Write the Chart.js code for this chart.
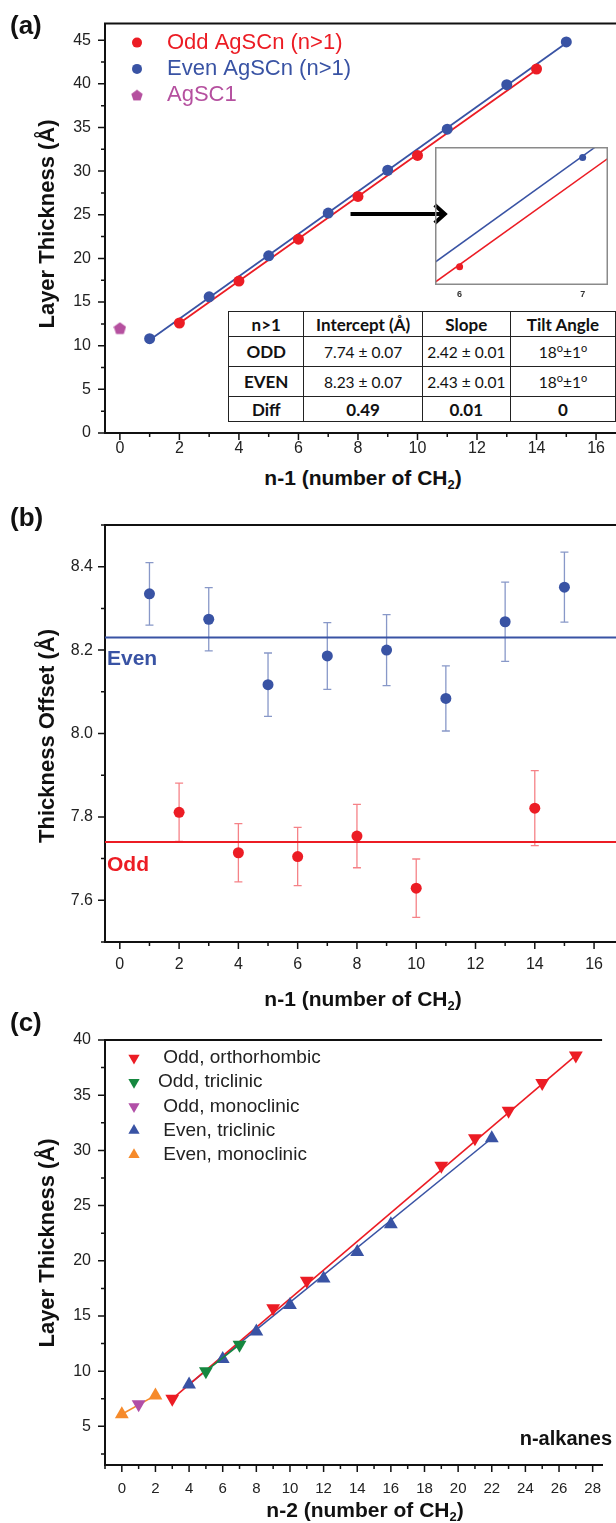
<!DOCTYPE html>
<html>
<head>
<meta charset="utf-8">
<script src="https://cdn.jsdelivr.net/npm/chart.js"></script>
<style>
html, body { margin: 0; padding: 0; background: #fff; }
body { width: 616px; height: 1523px; position: relative; overflow: hidden; font-family: "Liberation Sans", Arial, sans-serif; color: #111; }
canvas { position: absolute; left: 0; }
.lbl { position: absolute; white-space: nowrap; font-weight: bold; line-height: 1; transform: translate(0, -50%); }
.xtitle { position: absolute; white-space: nowrap; font-weight: bold; font-size: 21px; line-height: 1; transform: translate(-50%, -50%); }
.ytitle { position: absolute; white-space: nowrap; font-weight: bold; font-size: 22px; line-height: 1; transform: translate(-50%, -50%) rotate(-90deg); }
sub { font-size: 13px; vertical-align: -4px; line-height: 0; }
#fitTable { position: absolute; left: 228px; top: 311px; border-collapse: collapse; background: #fff; font-family: Lato, "Open Sans", sans-serif; font-size: 15.5px; color: #111; }
#fitTable td { border: 1.5px solid #222; text-align: center; padding: 0; }
#fitTable tr.head td, #fitTable td.rowname, #fitTable tr.bold td { font-weight: bold; font-size: 17px; }
#fitTable sup { font-size: 11px; vertical-align: 6px; line-height: 0; }
</style>
</head>
<body>

<canvas id="chartA" width="616" height="465" style="top:0px"></canvas>
<canvas id="insetChart" width="173" height="160" style="top:147px; left:435px"></canvas>
<canvas id="chartB" width="616" height="470" style="top:500px"></canvas>
<canvas id="chartC" width="616" height="490" style="top:1010px"></canvas>

<div class="lbl" style="left:10px; top:25px; font-size:26px">(a)</div>
<div class="lbl" style="left:10px; top:517px; font-size:26px">(b)</div>
<div class="lbl" style="left:10px; top:1022px; font-size:26px">(c)</div>

<div class="ytitle" style="left:47px; top:224px">Layer Thickness (Å)</div>
<div class="xtitle" style="left:363px; top:477px">n-1 (number of CH<sub>2</sub>)</div>
<div class="ytitle" style="left:47px; top:736px">Thickness Offset (Å)</div>
<div class="xtitle" style="left:363px; top:998px">n-1 (number of CH<sub>2</sub>)</div>
<div class="ytitle" style="left:47px; top:1243px">Layer Thickness (Å)</div>
<div class="xtitle" style="left:365px; top:1509px">n-2 (number of CH<sub>2</sub>)</div>

<div class="lbl" style="left:107px; top:657px; font-size:21px; color:#3953a4">Even</div>
<div class="lbl" style="left:107px; top:863px; font-size:21px; color:#ec1c24">Odd</div>
<div class="lbl" style="right:4px; top:1438px; font-size:20px">n-alkanes</div>

<table id="fitTable"></table>

<script>
//Colors
var red = "#ec1c24";
var blue = "#3953a4";
var magenta = "#b5509f";
var green = "#15873f";
var purple = "#b14fa7";
var orange = "#f68a2a";
var tickFont = "'Liberation Sans', Arial, sans-serif";

//DATA (a) layer thickness of AgSCn
var oddX = [2, 4, 6, 8, 10, 14];
var oddY = [12.6, 17.4, 22.2, 27.1, 31.8, 41.7];
var evenX = [1, 3, 5, 7, 9, 11, 13, 15];
var evenY = [10.8, 15.6, 20.3, 25.2, 30.1, 34.8, 39.9, 44.8];
var sc1X = [0];
var sc1Y = [12.0];
var oddFitX = [2, 14];
var oddFitY = [12.58, 41.62];
var evenFitX = [1, 15];
var evenFitY = [10.66, 44.68];
var aTicksX = [0, 2, 4, 6, 8, 10, 12, 14, 16];
var aTicksY = [0, 5, 10, 15, 20, 25, 30, 35, 40, 45];
var insetTicksX = [6, 7];
var arrowX = [7.75, 10.95];
var arrowY = [25.1, 25.1];

//fit table
var tableHead = ["n>1", "Intercept (Å)", "Slope", "Tilt Angle"];
var tableRows = [
  ["ODD", "7.74 ± 0.07", "2.42 ± 0.01", "18°±1°"],
  ["EVEN", "8.23 ± 0.07", "2.43 ± 0.01", "18°±1°"],
  ["Diff", "0.49", "0.01", "0"]
];

//DATA (b) thickness offset
var offEvenY = [8.335, 8.274, 8.117, 8.186, 8.200, 8.084, 8.268, 8.351];
var offEvenErr = [0.075, 0.076, 0.076, 0.080, 0.085, 0.078, 0.095, 0.084];
var offOddY = [7.811, 7.714, 7.705, 7.754, 7.629, 7.821];
var offOddErr = [0.070, 0.070, 0.070, 0.076, 0.070, 0.090];
var evenMeanX = [-0.5, 16.74];
var evenMeanY = [8.23, 8.23];
var oddMeanX = [-0.5, 16.74];
var oddMeanY = [7.74, 7.74];
var bTicksX = [0, 2, 4, 6, 8, 10, 12, 14, 16];
var bTicksY = [7.6, 7.8, 8.0, 8.2, 8.4];

//DATA (c) n-alkanes
var orthoX = [3, 9, 11, 19, 21, 23, 25, 27];
var orthoY = [7.5, 15.7, 18.2, 28.6, 31.1, 33.6, 36.1, 38.6];
var oddTriX = [5, 7];
var oddTriY = [10.0, 12.4];
var oddMonoX = [1];
var oddMonoY = [7.0];
var evenTriX = [4, 6, 8, 10, 12, 14, 16, 22];
var evenTriY = [8.8, 11.1, 13.6, 16.0, 18.4, 20.8, 23.3, 31.1];
var evenMonoX = [0, 2];
var evenMonoY = [6.1, 7.8];
var orthoFitX = [3, 27];
var orthoFitY = [7.5, 38.6];
var evenTriFitX = [4, 22];
var evenTriFitY = [8.8, 31.1];
var cTicksX = [0, 2, 4, 6, 8, 10, 12, 14, 16, 18, 20, 22, 24, 26, 28];
var cTicksY = [5, 10, 15, 20, 25, 30, 35, 40];


//HELPERS
function pairs(xs, ys) {
  return xs.map(function (x, i) { return { x: x, y: ys[i] }; });
}

function fixTicks(values) {
  return function (scale) {
    scale.ticks = values.map(function (v) { return { value: v }; });
  };
}

// pentagon marker for AgSC1 (no built-in pointStyle)
function makePentagon(color, size) {
  var c = document.createElement("canvas");
  c.width = size;
  c.height = size;
  var g = c.getContext("2d");
  var r = size / 2;
  g.fillStyle = color;
  g.beginPath();
  for (var k = 0; k < 5; k++) {
    var ang = -Math.PI / 2 + k * 2 * Math.PI / 5;
    var px = r + r * Math.cos(ang);
    var py = r + 0.5 + r * Math.sin(ang);
    if (k === 0) g.moveTo(px, py); else g.lineTo(px, py);
  }
  g.closePath();
  g.fill();
  return c;
}
var pentagonA = makePentagon(magenta, 13);
var pentagonLegend = makePentagon(magenta, 12);

function drawMarker(ctx, type, x, y, size, color) {
  ctx.fillStyle = color;
  ctx.beginPath();
  if (type === "circle") {
    ctx.arc(x, y, size, 0, Math.PI * 2);
  } else if (type === "pentagon") {
    ctx.drawImage(pentagonLegend, x - 6, y - 6);
    return;
  } else {
    var dir = type === "down" ? -1 : 1;
    for (var k = 0; k < 3; k++) {
      var ang = k * 2 * Math.PI / 3;
      var px = x + Math.sin(ang) * size;
      var py = y - dir * Math.cos(ang) * size;
      if (k === 0) ctx.moveTo(px, py); else ctx.lineTo(px, py);
    }
    ctx.closePath();
  }
  ctx.fill();
}

// ticks: majors come from the scale, minors from the step
function drawAxisTicks(ctx, scale, step, area, horizontal) {
  var majors = scale.ticks.map(function (t) { return t.value; });
  var start = Math.ceil(scale.min / step - 1e-6);
  var end = Math.floor(scale.max / step + 1e-6);
  ctx.beginPath();
  for (var i = start; i <= end; i++) {
    var v = i * step;
    var isMajor = majors.some(function (m) { return Math.abs(m - v) < step / 10; });
    var len = isMajor ? 7 : 4;
    var p = scale.getPixelForValue(v);
    if (horizontal) {
      ctx.moveTo(p, area.bottom);
      ctx.lineTo(p, area.bottom + len);
    } else {
      ctx.moveTo(area.left, p);
      ctx.lineTo(area.left - len, p);
    }
  }
  ctx.stroke();
}

//PLUGINS
var framePlugin = {
  id: "frame",
  afterDraw: function (chart, args, o) {
    if (!o.xMinor) return;
    var ctx = chart.ctx;
    var a = chart.chartArea;
    ctx.save();
    ctx.strokeStyle = "#111";
    ctx.lineWidth = 2;
    ctx.beginPath();
    ctx.moveTo(a.left - 1, a.top);
    ctx.lineTo(a.right, a.top);
    ctx.stroke();
    ctx.lineWidth = 1.5;
    drawAxisTicks(ctx, chart.scales.x, o.xMinor, a, true);
    drawAxisTicks(ctx, chart.scales.y, o.yMinor, a, false);
    ctx.restore();
  }
};

var legendPlugin = {
  id: "sideLegend",
  afterDraw: function (chart, args, o) {
    if (!o.texts) return;
    var ctx = chart.ctx;
    var a = chart.chartArea;
    ctx.save();
    ctx.font = o.textFont;
    ctx.textBaseline = "middle";
    for (var i = 0; i < o.texts.length; i++) {
      var x = a.left + o.dx;
      var y = a.top + o.dy + i * o.step;
      drawMarker(ctx, o.markers[i], x, y, o.size, o.colors[i]);
      ctx.fillStyle = o.textColors[i];
      ctx.fillText(o.texts[i], x + o.textDx, y);
    }
    ctx.restore();
  }
};

var errorBarPlugin = {
  id: "errorBars",
  beforeDatasetsDraw: function (chart) {
    var ctx = chart.ctx;
    var ys = chart.scales.y;
    chart.data.datasets.forEach(function (ds, i) {
      if (!ds.errors) return;
      var meta = chart.getDatasetMeta(i);
      ctx.save();
      ctx.strokeStyle = ds.errorColor;
      ctx.lineWidth = 1.3;
      ctx.beginPath();
      meta.data.forEach(function (pt, j) {
        var top = ys.getPixelForValue(ds.data[j].y + ds.errors[j]);
        var bot = ys.getPixelForValue(ds.data[j].y - ds.errors[j]);
        ctx.moveTo(pt.x, top); ctx.lineTo(pt.x, bot);
        ctx.moveTo(pt.x - 4, top); ctx.lineTo(pt.x + 4, top);
        ctx.moveTo(pt.x - 4, bot); ctx.lineTo(pt.x + 4, bot);
      });
      ctx.stroke();
      ctx.restore();
    });
  }
};

var arrowPlugin = {
  id: "arrow",
  afterDraw: function (chart, args, o) {
    if (!o.show) return;
    var ctx = chart.ctx;
    var x0 = chart.scales.x.getPixelForValue(arrowX[0]);
    var x1 = chart.scales.x.getPixelForValue(arrowX[1]);
    var y0 = chart.scales.y.getPixelForValue(arrowY[0]);
    ctx.save();
    ctx.strokeStyle = "#000";
    ctx.lineWidth = 4;
    ctx.lineCap = "butt";
    ctx.beginPath();
    ctx.moveTo(x0, y0);
    ctx.lineTo(x1 - 2, y0);
    ctx.stroke();
    ctx.lineJoin = "miter";
    ctx.beginPath();
    ctx.moveTo(x1 - 11, y0 - 9);
    ctx.lineTo(x1 - 1, y0);
    ctx.lineTo(x1 - 11, y0 + 9);
    ctx.stroke();
    ctx.restore();
  }
};

var insetFramePlugin = {
  id: "insetFrame",
  afterDraw: function (chart, args, o) {
    if (!o.show) return;
    var a = chart.chartArea;
    var ctx = chart.ctx;
    ctx.save();
    ctx.strokeStyle = "#8a8a8a";
    ctx.lineWidth = 1.5;
    ctx.strokeRect(a.left + 0.75, a.top + 0.75, a.right - a.left - 1.5, a.bottom - a.top - 1.5);
    ctx.restore();
  }
};

function xAxis(min, max, ticks, height, pad, size) {
  return {
    type: "linear",
    min: min,
    max: max,
    grid: { display: false, drawTicks: false },
    border: { display: true, color: "#111", width: 2 },
    afterBuildTicks: fixTicks(ticks),
    afterFit: function (scale) { scale.height = height; },
    ticks: { font: { family: tickFont, size: size }, color: "#222", padding: pad, autoSkip: false, maxRotation: 0 }
  };
}

function yAxis(min, max, ticks, pad, decimals) {
  return {
    type: "linear",
    min: min,
    max: max,
    grid: { display: false, drawTicks: false },
    border: { display: true, color: "#111", width: 2 },
    afterBuildTicks: fixTicks(ticks),
    afterFit: function (scale) { scale.width = 105; },
    ticks: {
      font: { family: tickFont, size: 16 }, color: "#222", padding: pad,
      callback: function (v) { return Number(v).toFixed(decimals); }
    }
  };
}

var plugins = [framePlugin, legendPlugin, errorBarPlugin, arrowPlugin, insetFramePlugin];


// Function for (a) layer thickness chart
function layerChart() {
  var ctx = document.getElementById("chartA").getContext("2d");
  new Chart(ctx, {
    type: "scatter",
    data: {
      datasets: [
        { label: "Odd AgSCn (n>1)", data: pairs(oddX, oddY), backgroundColor: red, borderWidth: 0, pointRadius: 5.5 },
        { label: "Even AgSCn (n>1)", data: pairs(evenX, evenY), backgroundColor: blue, borderWidth: 0, pointRadius: 5.5 },
        { label: "AgSC1", data: pairs(sc1X, sc1Y), pointStyle: pentagonA, pointRadius: 6.5 },
        { label: "odd fit", data: pairs(oddFitX, oddFitY), showLine: true, pointRadius: 0, borderColor: red, borderWidth: 1.8 },
        { label: "even fit", data: pairs(evenFitX, evenFitY), showLine: true, pointRadius: 0, borderColor: blue, borderWidth: 1.8 }
      ]
    },
    options: {
      responsive: false,
      animation: false,
      layout: { padding: { top: 16, left: 0, right: 0, bottom: 0 }, autoPadding: false },
      plugins: {
        legend: { display: false },
        tooltip: { enabled: false },
        frame: { xMinor: 1, yMinor: 2.5 },
        arrow: { show: true },
        sideLegend: {
          texts: ["Odd AgSCn (n>1)", "Even AgSCn (n>1)", "AgSC1"],
          markers: ["circle", "circle", "pentagon"],
          colors: [red, blue, magenta],
          textColors: [red, blue, magenta],
          textFont: "22px " + tickFont,
          dx: 32, dy: 19, step: 26.3, size: 5, textDx: 30
        }
      },
      scales: {
        x: xAxis(-0.5, 16.67, aTicksX, 32, 6, 16),
        y: yAxis(0, 46.9, aTicksY, 14, 0)
      }
    },
    plugins: plugins
  });
}

// Function for the zoomed inset of (a)
function insetChart() {
  var ctx = document.getElementById("insetChart").getContext("2d");
  new Chart(ctx, {
    type: "scatter",
    data: {
      datasets: [
        { data: pairs(oddX, oddY), backgroundColor: red, borderWidth: 0, pointRadius: 3.5 },
        { data: pairs(evenX, evenY), backgroundColor: blue, borderWidth: 0, pointRadius: 3.5 },
        { data: pairs(oddFitX, oddFitY), showLine: true, pointRadius: 0, borderColor: red, borderWidth: 1.5 },
        { data: pairs(evenFitX, evenFitY), showLine: true, pointRadius: 0, borderColor: blue, borderWidth: 1.5 }
      ]
    },
    options: {
      responsive: false,
      animation: false,
      layout: { padding: 0, autoPadding: false },
      plugins: {
        legend: { display: false },
        tooltip: { enabled: false },
        insetFrame: { show: true }
      },
      scales: {
        x: {
          type: "linear", min: 5.8, max: 7.206,
          grid: { display: false, drawTicks: false },
          border: { display: false },
          afterBuildTicks: fixTicks(insetTicksX),
          afterFit: function (scale) { scale.height = 22; },
          ticks: { font: { family: tickFont, size: 9, weight: "bold" }, color: "#333", padding: 4 }
        },
        y: { type: "linear", display: false, min: 21.7, max: 25.49 }
      }
    },
    plugins: plugins
  });
}

// Function for (b) thickness offset chart
function offsetChart() {
  var ctx = document.getElementById("chartB").getContext("2d");
  new Chart(ctx, {
    type: "scatter",
    data: {
      datasets: [
        { label: "Even", data: pairs(evenX, offEvenY), errors: offEvenErr, errorColor: "rgba(57,83,164,0.6)",
          backgroundColor: blue, borderWidth: 0, pointRadius: 5.5 },
        { label: "Odd", data: pairs(oddX, offOddY), errors: offOddErr, errorColor: "rgba(236,28,36,0.55)",
          backgroundColor: red, borderWidth: 0, pointRadius: 5.5 },
        { data: pairs(evenMeanX, evenMeanY), showLine: true, pointRadius: 0, borderColor: blue, borderWidth: 2 },
        { data: pairs(oddMeanX, oddMeanY), showLine: true, pointRadius: 0, borderColor: red, borderWidth: 2 }
      ]
    },
    options: {
      responsive: false,
      animation: false,
      layout: { padding: { top: 25, left: 0, right: 0, bottom: 0 }, autoPadding: false },
      plugins: {
        legend: { display: false },
        tooltip: { enabled: false },
        frame: { xMinor: 1, yMinor: 0.1 }
      },
      scales: {
        x: xAxis(-0.5, 16.74, bTicksX, 28, 13, 16),
        y: yAxis(7.5, 8.5, bTicksY, 12, 1)
      }
    },
    plugins: plugins
  });
}

// Function for (c) n-alkanes chart
function alkaneChart() {
  var ctx = document.getElementById("chartC").getContext("2d");
  new Chart(ctx, {
    type: "scatter",
    data: {
      datasets: [
        { label: "Odd, orthorhombic", data: pairs(orthoX, orthoY), pointStyle: "triangle", rotation: 180,
          backgroundColor: red, borderWidth: 0, pointRadius: 8 },
        { label: "Odd, triclinic", data: pairs(oddTriX, oddTriY), pointStyle: "triangle", rotation: 180, showLine: true,
          backgroundColor: green, borderColor: green, borderWidth: 1.5, pointBorderWidth: 0, pointRadius: 8 },
        { label: "Odd, monoclinic", data: pairs(oddMonoX, oddMonoY), pointStyle: "triangle", rotation: 180,
          backgroundColor: purple, borderWidth: 0, pointRadius: 8 },
        { label: "Even, triclinic", data: pairs(evenTriX, evenTriY), pointStyle: "triangle",
          backgroundColor: blue, borderWidth: 0, pointRadius: 8 },
        { label: "Even, monoclinic", data: pairs(evenMonoX, evenMonoY), pointStyle: "triangle", showLine: true,
          backgroundColor: orange, borderColor: orange, borderWidth: 1.5, pointBorderWidth: 0, pointRadius: 8 },
        { data: pairs(orthoFitX, orthoFitY), showLine: true, pointRadius: 0, borderColor: red, borderWidth: 1.6 },
        { data: pairs(evenTriFitX, evenTriFitY), showLine: true, pointRadius: 0, borderColor: blue, borderWidth: 1.6 }
      ]
    },
    options: {
      responsive: false,
      animation: false,
      layout: { padding: { top: 30, left: 0, right: 0, bottom: 0 }, autoPadding: false },
      plugins: {
        legend: { display: false },
        tooltip: { enabled: false },
        frame: { xMinor: 1, yMinor: 2.5 },
        sideLegend: {
          texts: [" Odd, orthorhombic", "Odd, triclinic", " Odd, monoclinic", " Even, triclinic", " Even, monoclinic"],
          markers: ["down", "down", "down", "up", "up"],
          colors: [red, green, purple, blue, orange],
          textColors: ["#222", "#222", "#222", "#222", "#222"],
          textFont: "19px " + tickFont,
          dx: 29, dy: 18, step: 24.2, size: 6.5, textDx: 24
        }
      },
      scales: {
        x: xAxis(-1, 28.56, cTicksX, 35, 15, 15),
        y: yAxis(1.5, 40, cTicksY, 14, 0)
      }
    },
    plugins: plugins
  });
}

// Build the fit table from its arrays
function buildTable() {
  var html = "<tr class='head' style='height:25px'>";
  var widths = [75, 118, 88, 105];
  tableHead.forEach(function (h, i) {
    html += "<td style='width:" + widths[i] + "px'>" + h.replace(">", "&gt;") + "</td>";
  });
  html += "</tr>";
  tableRows.forEach(function (row, r) {
    var cls = r === tableRows.length - 1 ? "bold" : "";
    var h = r === tableRows.length - 1 ? 25 : 30;
    html += "<tr class='" + cls + "' style='height:" + h + "px'>";
    row.forEach(function (cell, i) {
      html += "<td" + (i === 0 ? " class='rowname'" : "") + ">" + cell.replace(/°/g, "<sup>o</sup>") + "</td>";
    });
    html += "</tr>";
  });
  document.getElementById("fitTable").innerHTML = html;
}

//Show Charts on load
buildTable();
layerChart();
insetChart();
offsetChart();
alkaneChart();
</script>
</body>
</html>
